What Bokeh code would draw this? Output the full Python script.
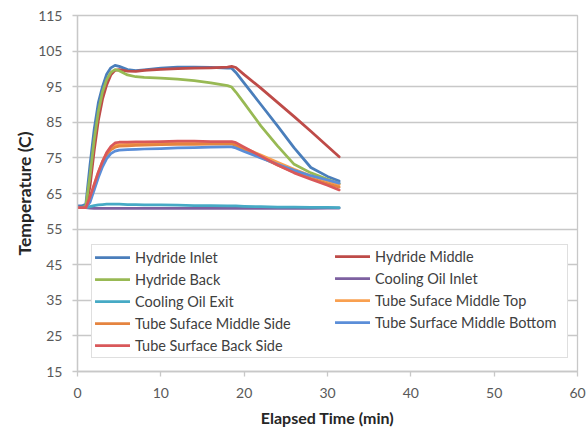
from bokeh.plotting import figure
from bokeh.models import Legend, LegendItem, FixedTicker, Range1d, Label
from bokeh.embed import file_html
from bokeh.resources import INLINE

# ---- data ----
time_min = [0, 0.5, 1.0, 1.5, 2.0, 2.5, 3.0, 3.5, 4.0, 4.5, 5.0, 6.0, 7.0, 8.0,
            10.0, 12.0, 14.0, 16.0, 18.0, 18.5, 19.0, 20.0, 22.0, 24.0, 26.0, 28.0, 30.0, 31.4]

hydride_inlet = [61.5, 61.5, 62.0, 73.0, 83.0, 90.5, 95.0, 98.5, 100.3, 101.0, 100.7, 99.8, 99.5, 99.7,
                 100.2, 100.5, 100.5, 100.4, 100.2, 100.2, 99.0, 96.0, 90.0, 84.0, 77.8, 72.3, 69.8, 68.5]
hydride_middle = [61.0, 61.0, 61.0, 67.0, 77.0, 85.5, 91.5, 95.5, 98.3, 99.6, 99.8, 99.4, 99.3, 99.6,
                  99.9, 100.1, 100.2, 100.3, 100.5, 100.7, 100.4, 98.4, 94.6, 90.6, 86.6, 82.5, 78.3, 75.3]
hydride_back = [61.0, 61.0, 61.5, 70.0, 80.0, 88.0, 93.5, 97.0, 99.0, 99.8, 99.5, 98.3, 97.8, 97.6,
                97.4, 97.1, 96.7, 96.1, 95.3, 94.9, 93.5, 90.4, 84.0, 78.4, 73.2, 70.8, 69.0, 67.8]
cooling_oil_inlet = [61.0, 61.0, 61.0, 60.9, 60.8, 60.8, 60.8, 60.8, 60.8, 60.8, 60.8, 60.8, 60.8, 60.8,
                     60.8, 60.8, 60.8, 60.8, 60.8, 60.8, 60.8, 60.8, 60.8, 60.8, 60.8, 60.8, 60.9, 60.9]
cooling_oil_exit = [61.0, 61.0, 61.0, 61.3, 61.6, 61.8, 61.9, 62.0, 62.0, 62.0, 62.0, 61.9, 61.9, 61.8,
                    61.8, 61.7, 61.6, 61.6, 61.5, 61.5, 61.5, 61.4, 61.3, 61.2, 61.2, 61.1, 61.1, 61.0]
tube_middle_top = [61.0, 61.0, 61.2, 63.5, 67.5, 71.0, 74.0, 76.3, 77.8, 78.5, 78.7, 78.8, 78.9, 79.0,
                   79.1, 79.2, 79.2, 79.2, 79.2, 79.1, 78.8, 77.8, 75.8, 73.8, 71.8, 70.0, 68.5, 67.5]
tube_middle_side = [61.0, 61.0, 61.0, 63.0, 67.0, 70.5, 73.5, 75.8, 77.3, 78.0, 78.3, 78.4, 78.5, 78.6,
                    78.7, 78.8, 78.8, 78.9, 78.9, 78.9, 78.5, 77.3, 75.2, 73.0, 71.0, 69.3, 67.8, 66.8]
tube_middle_bottom = [61.0, 61.0, 61.0, 62.5, 66.0, 69.5, 72.5, 74.8, 76.2, 76.9, 77.2, 77.3, 77.4, 77.5,
                      77.6, 77.8, 77.9, 78.0, 78.1, 78.1, 77.8, 76.8, 75.0, 73.2, 71.5, 70.0, 68.8, 67.9]
tube_back_side = [61.0, 61.0, 61.0, 64.0, 67.5, 71.0, 74.0, 76.5, 78.2, 79.2, 79.4, 79.4, 79.5, 79.5,
                  79.6, 79.7, 79.7, 79.6, 79.6, 79.6, 79.3, 78.0, 75.5, 73.0, 70.8, 69.0, 67.3, 66.0]

series_names = ["Hydride Inlet", "Hydride Middle", "Hydride Back", "Cooling Oil Inlet",
                "Cooling Oil Exit", "Tube Suface Middle Top", "Tube Suface Middle Side",
                "Tube Surface Middle Bottom", "Tube Surface Back Side"]
series_values = [hydride_inlet, hydride_middle, hydride_back, cooling_oil_inlet, cooling_oil_exit,
                 tube_middle_top, tube_middle_side, tube_middle_bottom, tube_back_side]
series_colors = ["#4A7EBB", "#BE4B48", "#98B954", "#7D60A0", "#46AAC5",
                 "#F9A050", "#E5843F", "#5B8ED8", "#D9585A"]

y_ticks = [15, 25, 35, 45, 55, 65, 75, 85, 95, 105, 115]
x_ticks = [0, 10, 20, 30, 40, 50, 60]

FONT = "Lato"

p = figure(width=586, height=430, output_backend="svg", toolbar_location=None,
           x_range=Range1d(0, 60), y_range=Range1d(15, 115),
           min_border_left=77, min_border_right=9, min_border_top=15, min_border_bottom=59)

p.background_fill_color = "white"
p.border_fill_color = "white"
p.outline_line_color = "#c8c8c8"
p.outline_line_width = 1.3

p.xgrid.visible = False
p.ygrid.ticker = FixedTicker(ticks=y_ticks)
p.ygrid.grid_line_color = "#c8c8c8"
p.ygrid.grid_line_width = 1.3

p.yaxis.ticker = FixedTicker(ticks=y_ticks)
p.xaxis.ticker = FixedTicker(ticks=x_ticks)

for ax in (p.xaxis[0], p.yaxis[0]):
    ax.axis_line_color = "#c8c8c8"
    ax.axis_line_width = 1.3
    ax.major_tick_line_color = "#c8c8c8"
    ax.major_tick_line_width = 1.3
    ax.major_tick_in = 0
    ax.major_tick_out = 5
    ax.minor_tick_line_color = None
    ax.major_label_text_font = FONT
    ax.major_label_text_font_size = "14px"
    ax.major_label_text_color = "#595959"
    ax.axis_label_text_font = FONT
    ax.axis_label_text_font_style = "bold"
    ax.axis_label_text_color = "#262626"

p.xaxis.axis_label_text_font_size = "16px"
p.yaxis.axis_label_text_font_size = "17.5px"
p.yaxis.axis_label = "Temperature (C)"
p.xaxis.axis_label = "Elapsed Time (min)"
p.yaxis.major_label_standoff = 10
p.yaxis.axis_label_standoff = 0
p.xaxis.major_label_standoff = 11
p.xaxis.axis_label_standoff = 7

renderers = []
for name, vals, col in zip(series_names, series_values, series_colors):
    r = p.line(time_min, vals, line_color=col, line_width=2.75, line_join="round", line_cap="round")
    renderers.append(r)

# Excel-style two-column legend: items ordered row by row
left_items = [LegendItem(label=series_names[i], renderers=[renderers[i]]) for i in (0, 2, 4, 6, 8)]
right_items = [LegendItem(label=series_names[i], renderers=[renderers[i]]) for i in (1, 3, 5, 7)]

common = dict(orientation="vertical", glyph_width=35, glyph_height=18, label_height=18,
              label_standoff=5, spacing=4, padding=3, margin=0,
              label_text_font=FONT, label_text_font_size="14.5px", label_text_color="#404040")

legend_left = Legend(items=left_items, location=(14, 13), label_width=429,
                     border_line_color="#c0c0c0", border_line_width=1.2,
                     background_fill_color="white", background_fill_alpha=1.0, **common)
legend_right = Legend(items=right_items, location=(258, 40), label_width=150,
                      border_line_color=None, background_fill_alpha=0.0, **common)
p.add_layout(legend_left, "center")
p.add_layout(legend_right, "center")

stray = Label(x=-72, y=-22, x_units="screen", y_units="screen", text="0",
              text_font=FONT, text_font_size="14px", text_color="#595959",
              text_align="center", text_baseline="middle")
p.add_layout(stray)

open("out.html", "w").write(file_html(p, INLINE))
